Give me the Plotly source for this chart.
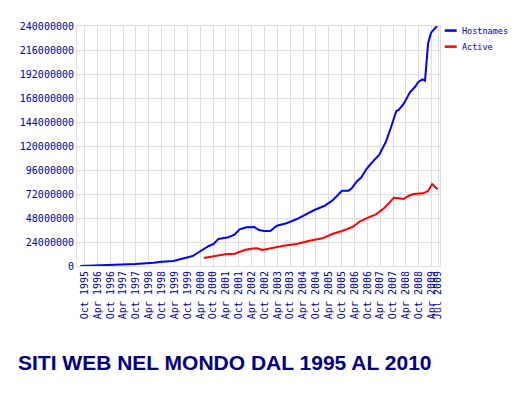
import plotly.graph_objects as go

# ---- data (values in millions of sites) ----
host_dates = ["1995-08-01", "1996-09-24", "1997-09-24", "1998-06-10", "1998-10-01",
              "1999-03-15", "1999-07-01", "1999-12-15", "2000-03-15", "2000-08-01",
              "2000-10-08", "2000-12-15", "2001-05-05", "2001-08-05", "2001-10-12",
              "2002-01-15", "2002-05-08", "2002-07-15", "2002-09-24", "2002-12-24",
              "2003-03-25", "2003-08-10", "2003-12-28", "2004-04-22", "2004-09-08",
              "2005-01-26", "2005-05-20", "2005-08-22", "2005-10-05", "2006-01-08",
              "2006-02-20", "2006-05-01", "2006-07-08", "2006-09-16", "2006-11-24",
              "2007-03-17", "2007-06-20", "2007-08-28", "2007-10-12", "2007-11-17",
              "2007-12-20", "2008-02-28", "2008-05-30", "2008-08-07", "2008-09-24",
              "2008-11-21", "2008-12-28", "2009-01-19", "2009-02-10", "2009-03-25",
              "2009-05-12", "2009-06-17"]
host_millions = [0, 1, 2, 3.3, 4.3,
                 5, 7, 10, 14, 20,
                 22, 27, 28.7, 31.7, 36.7,
                 38.7, 39, 36, 35, 35,
                 40.3, 42.7, 46.7, 51, 56,
                 60, 65.3, 72, 75.3, 75.3,
                 77.7, 84.3, 88.7, 96.7, 102.7,
                 111, 124, 137.7, 147.7, 155,
                 156, 162, 174, 179, 184,
                 186.7, 185.3, 207.7, 222.7, 233.3,
                 236.7, 240]

active_dates = ["2000-05-22", "2000-11-03", "2001-03-22", "2001-08-05", "2001-12-20",
                "2002-03-25", "2002-06-15", "2002-09-01", "2003-02-10", "2003-06-28",
                "2003-12-28", "2004-07-01", "2005-01-01", "2005-05-20", "2005-10-05",
                "2006-03-15", "2006-06-12", "2006-09-16", "2007-02-01", "2007-05-26",
                "2007-08-03", "2007-10-12", "2007-12-20", "2008-02-28", "2008-05-08",
                "2008-07-15", "2008-12-01", "2009-02-10", "2009-04-08", "2009-05-12",
                "2009-06-24"]
active_millions = [8, 10.3, 11.7, 12.3, 16,
                   17.3, 17.7, 16, 18.3, 20.3,
                   22, 25.3, 27.7, 32, 35,
                   39.3, 44.3, 47.7, 51.7, 57.7,
                   62.7, 68.3, 67.7, 67, 70,
                   72, 72.7, 75, 82, 80,
                   76.7]

tick_dates = ["1995-10-01", "1996-04-01", "1996-10-01", "1997-04-01", "1997-10-01",
              "1998-04-01", "1998-10-01", "1999-04-01", "1999-10-01", "2000-04-01",
              "2000-10-01", "2001-04-01", "2001-10-01", "2002-04-01", "2002-10-01",
              "2003-04-01", "2003-10-01", "2004-04-01", "2004-10-01", "2005-04-01",
              "2005-10-01", "2006-04-01", "2006-10-01", "2007-04-01", "2007-10-01",
              "2008-04-01", "2008-10-01", "2009-04-01", "2009-07-01"]
tick_labels = ["Oct 1995", "Apr 1996", "Oct 1996", "Apr 1997", "Oct 1997",
               "Apr 1998", "Oct 1998", "Apr 1999", "Oct 1999", "Apr 2000",
               "Oct 2000", "Apr 2001", "Oct 2001", "Apr 2002", "Oct 2002",
               "Apr 2003", "Oct 2003", "Apr 2004", "Oct 2004", "Apr 2005",
               "Oct 2005", "Apr 2006", "Oct 2006", "Apr 2007", "Oct 2007",
               "Apr 2008", "Oct 2008", "Apr 2009", "Jul 2009"]
y_ticks = [0, 24000000, 48000000, 72000000, 96000000, 120000000,
           144000000, 168000000, 192000000, 216000000, 240000000]

series_names = ["Hostnames", "Active"]
series_colors = ["#0000ff", "#ff0000"]
title_text = "SITI WEB NEL MONDO DAL 1995 AL 2010"

TXT = "#000099"
GRID = "#dedede"
MONO = "DejaVu Sans Mono"

# the page body adds an 8px margin, so the figure is 8px smaller and shifted
W, H = 513, 387

fig = go.Figure()
fig.add_trace(go.Scatter(x=host_dates, y=[v * 1e6 for v in host_millions],
                         mode="lines", name=series_names[0],
                         line=dict(color=series_colors[0], width=2)))
fig.add_trace(go.Scatter(x=active_dates, y=[v * 1e6 for v in active_millions],
                         mode="lines", name=series_names[1],
                         line=dict(color=series_colors[1], width=2)))

# custom compact legend (to the right of the plot area)
leg_y = [0.981, 0.914]
for name, col, yy in zip(series_names, series_colors, leg_y):
    fig.add_shape(type="line", xref="paper", yref="paper",
                  x0=1.013, x1=1.046, y0=yy, y1=yy,
                  line=dict(color=col, width=2.5))
    fig.add_annotation(xref="paper", yref="paper", x=1.054, y=yy,
                       text=name, showarrow=False, xanchor="left", yanchor="middle",
                       font=dict(family=MONO, size=8.5, color=TXT))

fig.update_layout(
    width=W, height=H,
    margin=dict(l=60, r=81, t=18, b=129),
    paper_bgcolor="white", plot_bgcolor="white",
    showlegend=False,
    title=dict(text="<b>" + title_text + "</b>", x=10 / W, xanchor="left",
               y=1 - 355 / H, yanchor="middle", yref="container",
               font=dict(family="Liberation Sans", size=21, color="#000080")),
    xaxis=dict(range=["1995-06-16", "2009-07-29"], tickvals=tick_dates,
               ticktext=tick_labels, tickangle=-90, showgrid=True,
               gridcolor=GRID, gridwidth=1, showline=True, linecolor=GRID,
               mirror=True, ticks="", zeroline=False,
               tickfont=dict(family=MONO, size=10, color=TXT)),
    yaxis=dict(range=[0, 240000000], tickvals=y_ticks, tickformat="d",
               showgrid=True, gridcolor=GRID, gridwidth=1, showline=True,
               linecolor=GRID, mirror=True, ticks="", zeroline=False,
               tickfont=dict(family=MONO, size=10, color=TXT)),
)

fig.write_html("out.html")
